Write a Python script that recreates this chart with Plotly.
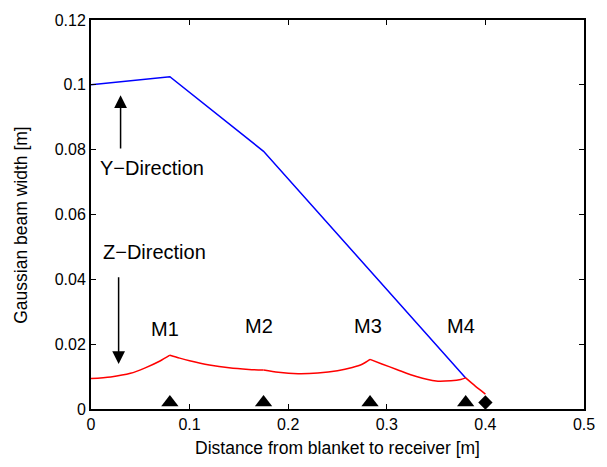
import plotly.graph_objects as go

# ---- data ----
y_dir_x = [0.0, 0.08, 0.175, 0.38]
y_dir_w = [0.1000, 0.1025, 0.0795, 0.0096]

z_dir_x = [0.0, 0.02, 0.04, 0.055, 0.07, 0.08,
           0.09, 0.10, 0.12, 0.14, 0.16, 0.175,
           0.19, 0.21, 0.23, 0.25, 0.265, 0.275, 0.283,
           0.295, 0.31, 0.33, 0.35, 0.365, 0.375, 0.38,
           0.385, 0.39, 0.395, 0.40]
z_dir_w = [0.0094, 0.0099, 0.0110, 0.0127, 0.0148, 0.0166,
           0.0157, 0.0149, 0.0136, 0.0127, 0.0122, 0.0120,
           0.0113, 0.0109, 0.0111, 0.0118, 0.0128, 0.0138, 0.0153,
           0.0139, 0.0122, 0.0100, 0.0086, 0.0087, 0.0091, 0.0096,
           0.0083, 0.0070, 0.0058, 0.0046]

mirror_x = [0.08, 0.175, 0.283, 0.38]
mirror_y = [0.002, 0.002, 0.002, 0.002]
mirror_labels = ["M1", "M2", "M3", "M4"]
mirror_label_x = [0.0753, 0.1707, 0.2807, 0.3757]
mirror_label_y = [0.0247, 0.0255, 0.0255, 0.0255]

receiver_x = [0.40]
receiver_y = [0.002]

x_ticks = [0, 0.1, 0.2, 0.3, 0.4, 0.5]
x_tick_text = ["0", "0.1", "0.2", "0.3", "0.4", "0.5"]
y_ticks = [0, 0.02, 0.04, 0.06, 0.08, 0.10, 0.12]
y_tick_text = ["0", "0.02", "0.04", "0.06", "0.08", "0.1", "0.12"]

FONT = "Liberation Sans, Arial, Helvetica, sans-serif"

fig = go.Figure()
fig.add_trace(go.Scatter(x=y_dir_x, y=y_dir_w, mode="lines",
                         line=dict(color="#0000ff", width=1.5), showlegend=False))

# red curve: one smooth piece between consecutive mirrors (sharp kinks at mirrors)
breaks = [0.0] + mirror_x + [max(z_dir_x)]
for a, b in zip(breaks[:-1], breaks[1:]):
    seg = [(x, w) for x, w in zip(z_dir_x, z_dir_w) if a - 1e-9 <= x <= b + 1e-9]
    fig.add_trace(go.Scatter(x=[s[0] for s in seg], y=[s[1] for s in seg], mode="lines",
                             line=dict(color="#ff0000", width=1.5, shape="spline",
                                       smoothing=0.8),
                             showlegend=False))

fig.add_trace(go.Scatter(x=mirror_x, y=mirror_y, mode="markers",
                         marker=dict(symbol="triangle-up", size=15, color="black"),
                         showlegend=False, cliponaxis=False))
fig.add_trace(go.Scatter(x=receiver_x, y=receiver_y, mode="markers",
                         marker=dict(symbol="diamond", size=11, color="black"),
                         showlegend=False, cliponaxis=False))

ann = []
for t, xx, yy in zip(mirror_labels, mirror_label_x, mirror_label_y):
    ann.append(dict(x=xx, y=yy, text=t, showarrow=False, xref="x", yref="y",
                    font=dict(size=20, color="black", family=FONT)))
ann.append(dict(x=0.0614, y=0.0742, text="Y\u2212Direction", showarrow=False,
                font=dict(size=20, color="black", family=FONT)))
ann.append(dict(x=0.0643, y=0.0485, text="Z\u2212Direction", showarrow=False,
                font=dict(size=20, color="black", family=FONT)))
# arrows
ann.append(dict(x=0.030, y=0.0968, ax=0.030, ay=0.0799, axref="x", ayref="y",
                xref="x", yref="y", text="", showarrow=True, arrowhead=2,
                arrowsize=1.7, arrowwidth=1.5, arrowcolor="black"))
ann.append(dict(x=0.028, y=0.0139, ax=0.028, ay=0.0411, axref="x", ayref="y",
                xref="x", yref="y", text="", showarrow=True, arrowhead=2,
                arrowsize=1.7, arrowwidth=1.5, arrowcolor="black"))
# y-axis title
ann.append(dict(x=-0.142, y=0.4736, xref="paper", yref="paper", text="Gaussian beam width [m]",
                textangle=-90, showarrow=False, xanchor="center", yanchor="middle",
                font=dict(size=17.5, color="black", family=FONT)))

fig.update_layout(
    width=607, height=467,
    margin=dict(l=91, r=16, t=14, b=56),
    paper_bgcolor="white", plot_bgcolor="white",
    font=dict(family=FONT, color="black"),
    annotations=ann,
)
fig.update_xaxes(range=[0, 0.5], tickvals=x_ticks, ticktext=x_tick_text,
                 showgrid=False, zeroline=False, showline=True, mirror="ticks",
                 linecolor="black", linewidth=2, ticks="inside", ticklen=5,
                 tickcolor="black", tickfont=dict(size=16, family=FONT),
                 title=dict(text="Distance from blanket to receiver [m]",
                            font=dict(size=17.5, family=FONT), standoff=10))
fig.update_yaxes(range=[0, 0.12], tickvals=y_ticks, ticktext=y_tick_text,
                 showgrid=False, zeroline=False, showline=True, mirror="ticks",
                 linecolor="black", linewidth=2, ticks="inside", ticklen=5,
                 tickcolor="black", tickfont=dict(size=16, family=FONT))

fig.write_html("out.html")
